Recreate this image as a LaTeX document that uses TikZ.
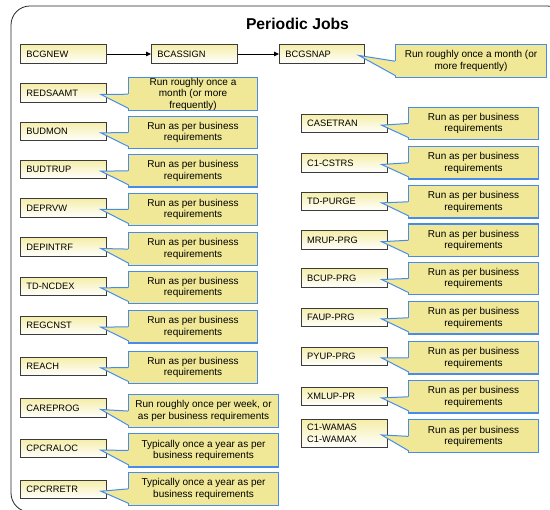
\documentclass[tikz,border=0pt]{standalone}
\usepackage{fontspec}
\setmainfont{Liberation Sans}
\usetikzlibrary{calc,arrows.meta}
\definecolor{notefill}{RGB}{240,232,150}
\definecolor{noteline}{RGB}{70,140,235}
\definecolor{jobtop}{RGB}{245,238,170}
\definecolor{jobline}{RGB}{60,60,60}
\newcommand\jobfont{\fontsize{9.3}{11.7}\selectfont}
\newcommand\notefont{\fontsize{10}{11.7}\selectfont}
\newcommand\calltail[2]{%
  \fill[notefill] ($(#1.west)+(1.2,0)$) -- ($(#2.east)+(-6,1.5)$) -- ($(#1.south west)+(1.2,-3)$) -- cycle;
  \draw[noteline,line width=1pt,line join=miter] (#1.west) -- ($(#2.east)+(-6,1.5)$) -- ($(#1.south west)+(0,-3)$);
}
\tikzset{
  jobbox/.style={draw=jobline, line width=0.9pt, top color=jobtop, bottom color=white,
    minimum height=18.5pt, inner xsep=6pt, inner ysep=0pt, text width=74pt, align=left,
    font=\jobfont, anchor=north west},
  notebox/.style={draw=noteline, fill=notefill, line width=1.1pt, inner sep=0pt,
    align=center, font=\notefont, anchor=north west, minimum width=129pt, minimum height=32.5pt},
  flow/.style={draw=black, line width=0.8pt, -{Triangle[length=5pt,width=4.5pt]}},
  frame/.style={draw=black!85, line width=0.8pt, rounded corners=19pt}
}
\begin{document}
\begin{tikzpicture}[x=1pt,y=-1pt]
\useasboundingbox (0,0) rectangle (550,510);
\fill[white] (0,0) rectangle (550,510);
\begin{scope}
  \clip (0,0) rectangle (550,510);
  \draw[frame] (11,6) rectangle (566,512);
\end{scope}
\node[font=\fontsize{15.7}{18}\selectfont\bfseries] (title) at (297.5,23.5) {Periodic Jobs};

% top chain
\node[jobbox] (bcgnew) at (20,44.3) {BCGNEW};
\node[jobbox] (bcassign) at (151,44.3) {BCASSIGN};
\node[jobbox, text width=73pt] (bcgsnap) at (279,44.3) {BCGSNAP};
\draw[flow] (bcgnew.east) -- (bcassign.west);
\draw[flow] (bcassign.east) -- (bcgsnap.west);

% left column jobs
\node[jobbox] (redsaamt) at (20,83.3) {REDSAAMT};
\node[jobbox] (budmon) at (20,121.7) {BUDMON};
\node[jobbox] (budtrup) at (20,160) {BUDTRUP};
\node[jobbox] (deprvw) at (20,198.3) {DEPRVW};
\node[jobbox] (depintrf) at (20,237.3) {DEPINTRF};
\node[jobbox] (tdncdex) at (20,276.7) {TD-NCDEX};
\node[jobbox] (regcnst) at (20,316) {REGCNST};
\node[jobbox] (reach) at (20,356.7) {REACH};
\node[jobbox] (careprog) at (20,398.3) {CAREPROG};
\node[jobbox] (cpcraloc) at (20,439) {CPCRALOC};
\node[jobbox] (cpcrretr) at (20,480) {CPCRRETR};

% right column jobs
\node[jobbox] (casetran) at (300.7,114) {CASETRAN};
\node[jobbox] (cicstrs) at (300.7,153.3) {C1-CSTRS};
\node[jobbox] (tdpurge) at (300.7,191.7) {TD-PURGE};
\node[jobbox] (mrupprg) at (300.7,230.5) {MRUP-PRG};
\node[jobbox] (bcupprg) at (300.7,268.3) {BCUP-PRG};
\node[jobbox] (fauprg) at (300.7,307.7) {FAUP-PRG};
\node[jobbox] (pyupprg) at (300.7,346.7) {PYUP-PRG};
\node[jobbox] (xmluppr) at (300.7,386.7) {XMLUP-PR};
\node[jobbox, minimum height=27.4pt] (ciwamas) at (300.7,419.3) {C1-WAMAS\\C1-WAMAX};

% notes
\node[notebox, minimum width=151pt, minimum height=33.3pt] (nbcgsnap) at (395,44) {Run roughly once a month (or\\more frequently)};
\node[notebox, minimum height=32.7pt] (nredsaamt) at (128,77.3) {Run roughly once a\\month (or more\\frequently)};
\node[notebox] (nbudmon) at (128,115.7) {Run as per business\\requirements};
\node[notebox] (nbudtrup) at (128,154) {Run as per business\\requirements};
\node[notebox] (ndeprvw) at (128,192.7) {Run as per business\\requirements};
\node[notebox] (ndepintrf) at (128,232.3) {Run as per business\\requirements};
\node[notebox] (ntdncdex) at (128,270.7) {Run as per business\\requirements};
\node[notebox] (nregcnst) at (128,310) {Run as per business\\requirements};
\node[notebox] (nreach) at (128,350.7) {Run as per business\\requirements};
\node[notebox, minimum width=150pt, minimum height=33pt] (ncareprog) at (128,394) {Run roughly once per week, or\\as per business requirements};
\node[notebox, minimum width=150pt, minimum height=33.5pt] (ncpcraloc) at (128,433) {Typically once a year as per\\business requirements};
\node[notebox, minimum width=150pt, minimum height=33.3pt] (ncpcrretr) at (128,471.7) {Typically once a year as per\\business requirements};

\node[notebox, minimum width=130pt] (ncasetran) at (408,106.7) {Run as per business\\requirements};
\node[notebox, minimum width=130pt] (ncicstrs) at (408,146) {Run as per business\\requirements};
\node[notebox, minimum width=130pt] (ntdpurge) at (408,185) {Run as per business\\requirements};
\node[notebox, minimum width=130pt] (nmrupprg) at (408,223.5) {Run as per business\\requirements};
\node[notebox, minimum width=130pt] (nbcupprg) at (408,261.7) {Run as per business\\requirements};
\node[notebox, minimum width=130pt] (nfauprg) at (408,301) {Run as per business\\requirements};
\node[notebox, minimum width=130pt] (npyupprg) at (408,341) {Run as per business\\requirements};
\node[notebox, minimum width=130pt] (nxmluppr) at (408,380) {Run as per business\\requirements};
\node[notebox, minimum width=130pt, minimum height=33pt] (nciwamas) at (408,419.3) {Run as per business\\requirements};

% callout tails
\calltail{nbcgsnap}{bcgsnap}
\calltail{nredsaamt}{redsaamt}
\calltail{nbudmon}{budmon}
\calltail{nbudtrup}{budtrup}
\calltail{ndeprvw}{deprvw}
\calltail{ndepintrf}{depintrf}
\calltail{ntdncdex}{tdncdex}
\calltail{nregcnst}{regcnst}
\calltail{nreach}{reach}
\calltail{ncareprog}{careprog}
\calltail{ncpcraloc}{cpcraloc}
\calltail{ncpcrretr}{cpcrretr}
\calltail{ncasetran}{casetran}
\calltail{ncicstrs}{cicstrs}
\calltail{ntdpurge}{tdpurge}
\calltail{nmrupprg}{mrupprg}
\calltail{nbcupprg}{bcupprg}
\calltail{nfauprg}{fauprg}
\calltail{npyupprg}{pyupprg}
\calltail{nxmluppr}{xmluppr}
\calltail{nciwamas}{ciwamas}
\end{tikzpicture}
\end{document}
